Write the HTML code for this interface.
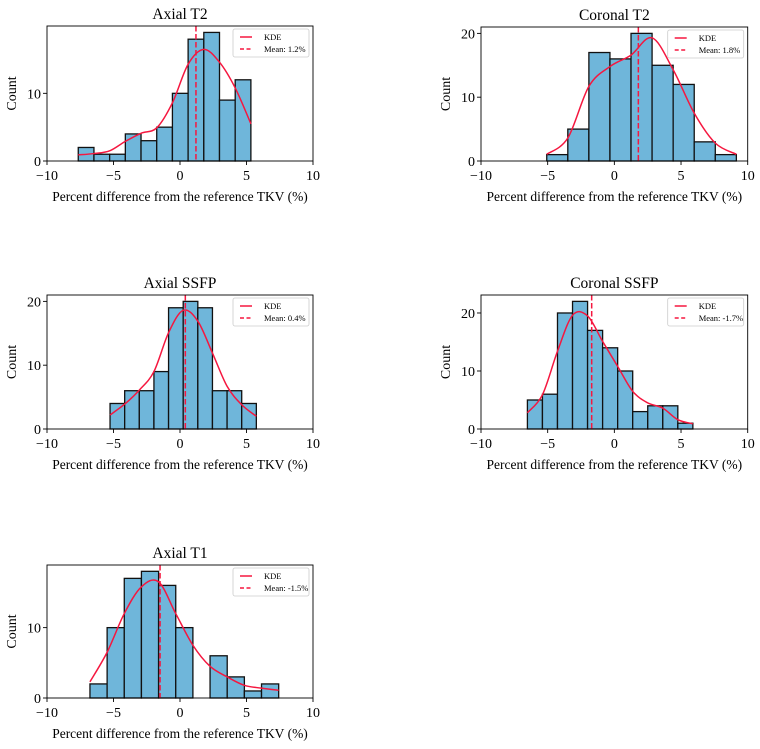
<!DOCTYPE html>
<html><head><meta charset="utf-8">
<style>
html,body{margin:0;padding:0;background:#fff;}
svg{display:block;font-family:"Liberation Serif","DejaVu Serif",serif;}
</style></head>
<body>
<svg id="fig" width="760" height="749" viewBox="0 0 760 749" xmlns="http://www.w3.org/2000/svg"></svg>
<script>
// ---- Data ----
const titles = ["Axial T2","Coronal T2","Axial SSFP","Coronal SSFP","Axial T1"];
const binStarts = [-7.65, -5.07, -5.26, -6.52, -6.77];
const binWidths = [1.18, 1.58, 1.10, 1.128, 1.29];
const countsAxialT2 = [2,1,1,4,3,5,10,18,19,9,12];
const countsCoronalT2 = [1,5,17,16,20,15,12,3,1];
const countsAxialSSFP = [4,6,6,9,19,20,19,6,6,4];
const countsCoronalSSFP = [5,6,20,22,17,14,10,3,4,4,1];
const countsAxialT1 = [2,10,17,18,16,10,0,6,3,1,2];
const kdeAxialT2 = [0.9,1.1,1.5,2.9,4.1,4.9,8.6,14.3,16.5,14.6,10.8,5.5];
const kdeCoronalT2 = [1.05,3.6,11.7,14.8,16.6,19.3,14.3,7.5,2.8,1.05];
const kdeAxialSSFP = [2.2,3.9,6.1,9.0,15.1,18.6,16.9,11.9,6.7,3.8,2.0];
const kdeCoronalSSFP = [2.8,5.9,13.4,19.6,19.5,15.1,10.8,6.5,4.5,3.6,1.6,0.9];
const kdeAxialT1 = [2.3,6.5,12.0,15.8,16.5,12.0,7.5,4.5,3.0,1.8,1.4,1.1];
const means = [1.2, 1.8, 0.4, -1.7, -1.5];
const xTicks = [-10,-5,0,5,10];
const yTicks = [0,10,20];
const countsAll = [countsAxialT2,countsCoronalT2,countsAxialSSFP,countsCoronalSSFP,countsAxialT1];
const kdeAll = [kdeAxialT2,kdeCoronalT2,kdeAxialSSFP,kdeCoronalSSFP,kdeAxialT1];

// ---- layout ----
const boxes = [
  {l:47,r:313,t:26,b:161},
  {l:481,r:747.7,t:27,b:161},
  {l:47,r:313,t:295,b:429},
  {l:481,r:747.7,t:295,b:429},
  {l:47,r:313,t:565,b:698}
];
const NS="http://www.w3.org/2000/svg";
const svg=document.getElementById('fig');
function mk(tag,attrs,parent){const e=document.createElementNS(NS,tag);for(const k in attrs)e.setAttribute(k,attrs[k]);(parent||svg).appendChild(e);return e;}
function smooth(pts){let d="M"+pts[0][0]+","+pts[0][1];for(let i=0;i<pts.length-1;i++){const p0=pts[i-1]||pts[i],p1=pts[i],p2=pts[i+1],p3=pts[i+2]||p2;
 const c1=[p1[0]+(p2[0]-p0[0])/6,p1[1]+(p2[1]-p0[1])/6],c2=[p2[0]-(p3[0]-p1[0])/6,p2[1]-(p3[1]-p1[1])/6];
 d+=" C"+c1[0]+","+c1[1]+" "+c2[0]+","+c2[1]+" "+p2[0]+","+p2[1];}return d;}

titles.forEach((title,pi)=>{
  const B=boxes[pi], counts=countsAll[pi], kde=kdeAll[pi];
  const ymax=Math.max(...counts)*1.05;
  const xs=v=>B.l+(v+10)/20*(B.r-B.l);
  const ys=v=>B.b-v/ymax*(B.b-B.t);
  const g=mk('g',{});
  
  
  const t=mk('text',{x:(B.l+B.r)/2,y:B.t-7,'text-anchor':'middle','font-size':'15.5'},g);
  t.textContent=title;
  
  
  counts.forEach((c,i)=>{
    const x0=xs(binStarts[pi]+i*binWidths[pi]), x1=xs(binStarts[pi]+(i+1)*binWidths[pi]);
    const r=mk('rect',{x:x0,y:ys(c),width:x1-x0,height:ys(0)-ys(c),fill:'#6fb6da',stroke:'#111','stroke-width':'1.3'},g);
    
    
  });
  const pts=kde.map((v,i)=>[xs(binStarts[pi]+i*binWidths[pi]),ys(v)]);
  const k=mk('path',{d:smooth(pts),fill:'none',stroke:'#f5173f','stroke-width':'1.5'},g);
  
  
  const ml=mk('line',{x1:xs(means[pi]),x2:xs(means[pi]),y1:B.t,y2:B.b,stroke:'#f5173f','stroke-width':'1.5','stroke-dasharray':'5.5,2.5'},g);
  
  
  const fr=mk('rect',{x:B.l,y:B.t,width:B.r-B.l,height:B.b-B.t,fill:'none',stroke:'#000','stroke-width':'0.9'},g);
  
  
  xTicks.forEach(v=>{
    mk('line',{x1:xs(v),x2:xs(v),y1:B.b,y2:B.b+4,stroke:'#000','stroke-width':'0.9'},g);
    const tl=mk('text',{x:xs(v),y:B.b+19,'text-anchor':'middle','font-size':'14'},g);
    tl.textContent=v<0?'\u2212'+(-v):String(v);
    
    
  });
  yTicks.filter(v=>v<=ymax).forEach(v=>{
    mk('line',{x1:B.l-4,x2:B.l,y1:ys(v),y2:ys(v),stroke:'#000','stroke-width':'0.9'},g);
    const tl=mk('text',{x:B.l-6,y:ys(v)+5,'text-anchor':'end','font-size':'14'},g);
    tl.textContent=v;
    
    
  });
  const xl=mk('text',{x:(B.l+B.r)/2,y:B.b+40,'text-anchor':'middle','font-size':'13.5'},g);
  xl.textContent='Percent difference from the reference TKV (%)';
  
  
  const yl=mk('text',{x:0,y:0,'text-anchor':'middle','font-size':'14',transform:'translate('+(B.l-31)+','+((B.t+B.b)/2)+') rotate(-90)'},g);
  yl.textContent='Count';
  
  
  // legend
  const lx=B.r-80, ly=B.t+3;
  const lg=mk('g',{},g);
  
  
  mk('rect',{x:lx,y:ly,width:76,height:28,rx:2,fill:'#fff','fill-opacity':'0.85',stroke:'#ccc','stroke-width':'0.8'},lg);
  mk('line',{x1:lx+7,x2:lx+19,y1:ly+8,y2:ly+8,stroke:'#f5173f','stroke-width':'1.5'},lg);
  mk('line',{x1:lx+7,x2:lx+19,y1:ly+20,y2:ly+20,stroke:'#f5173f','stroke-width':'1.5','stroke-dasharray':'4,2.5'},lg);
  const e1=mk('text',{x:lx+31,y:ly+11,'font-size':'8.5'},lg);e1.textContent='KDE';
  
  
  const e2=mk('text',{x:lx+31,y:ly+23,'font-size':'8.5'},lg);e2.textContent='Mean: '+means[pi].toFixed(1)+'%';
  
  
});
</script>
</body></html>
